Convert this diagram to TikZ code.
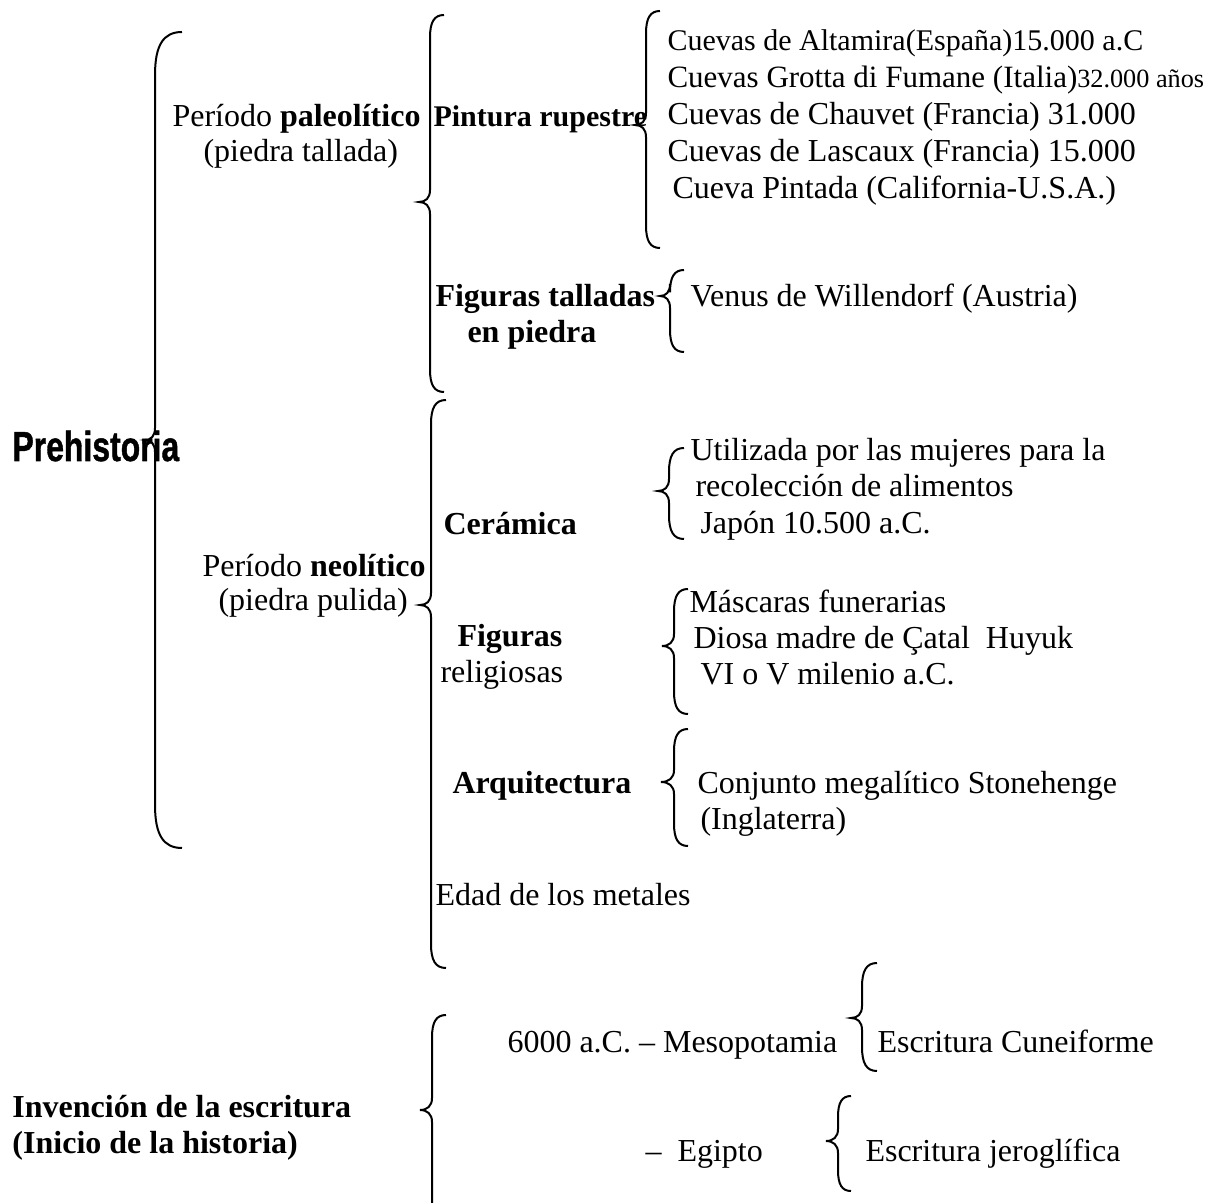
\documentclass[tikz,border=0pt]{standalone}
\usepackage{fontspec}
\setmainfont{Liberation Serif}
\newfontfamily\titulo[FakeBold=1.2]{Liberation Sans}

\tikzset{
  llave/.style={line width=0.8pt},
  txt/.style={anchor=base west, inner sep=0pt, font=\fontsize{12.8}{15}\selectfont},
  chico/.style={font=\fontsize{12}{14}\selectfont},
}

% llave: x linea, y arriba, y punta, y abajo, ancho extremos, ancho punta
\newcommand{\llave}[6]{%
  \draw[llave] (#1+#5,#2) .. controls (#1+0.3*#5,#2) and (#1,#2+0.5*#5) .. (#1,#2+1.6*#5)
    -- (#1,#3-12) .. controls (#1,#3-4) and (#1-0.4*#6,#3) .. (#1-#6,#3)
    .. controls (#1-0.4*#6,#3) and (#1,#3+4) .. (#1,#3+12)
    -- (#1,#4-1.6*#5) .. controls (#1,#4-0.5*#5) and (#1+0.3*#5,#4) .. (#1+#5,#4);}

\begin{document}
\begin{tikzpicture}[x=0.4pt,y=-0.4pt]
  \useasboundingbox (0,0) rectangle (1217,1203);

  % Prehistoria
  \node[anchor=base west, inner sep=0pt] (prehist) at (12,461)
    {\titulo\fontsize{16.8}{18}\selectfont\bfseries\scalebox{0.76}[1]{Prehistoria}};
  \llave{155}{32}{440}{848}{27}{10}

  % paleolitico
  \node[txt] (paleo) at (172,127) {Período \textbf{paleolítico}};
  \node[txt] (paleo2) at (203,162) {(piedra tallada)};
  \llave{430}{15}{202}{392}{14}{11}

  \node[txt, chico] (pintura) at (433,127) {\textbf{Pintura rupestre}};
  \llave{646}{11}{125}{248}{14}{11}
  \node[txt, chico] (cueva1) at (667,51) {Cuevas de Altamira(España)15.000 a.C};
  \node[txt, font=\fontsize{12.4}{14}\selectfont] (cueva2) at (667,88)
    {Cuevas Grotta di Fumane (Italia)\fontsize{10.5}{12}\selectfont32.000 años};
  \node[txt] (cueva3) at (667,125) {Cuevas de Chauvet (Francia) 31.000};
  \node[txt] (cueva4) at (667,162) {Cuevas de Lascaux (Francia) 15.000};
  \node[txt] (cueva5) at (672,199) {Cueva Pintada (California-U.S.A.)};

  \node[txt] (tallas) at (435,307) {\textbf{Figuras talladas}};
  \node[txt] (tallas2) at (467,343) {\textbf{en piedra}};
  \llave{670}{270}{296}{352}{14}{10}
  \node[txt] (venus) at (690,307) {Venus de Willendorf (Austria)};

  % neolitico
  \node[txt] (neo) at (202,576) {Período \textbf{neolítico}};
  \node[txt] (neo2) at (218,611) {(piedra pulida)};
  \llave{431}{400}{605}{968}{15}{11}

  \node[txt] (ceram) at (443,535) {\textbf{Cerámica}};
  \llave{669}{448}{491}{539}{15}{11}
  \node[txt] (ceram1) at (690,461) {Utilizada por las mujeres para la};
  \node[txt] (ceram2) at (695,497) {recolección de alimentos};
  \node[txt] (ceram3) at (700,534) {Japón 10.500 a.C.};

  \node[txt] (relig) at (457,646) {\textbf{Figuras}};
  \node[txt] (relig2) at (440,682) {religiosas};
  \llave{674}{589}{646}{714}{14}{12}
  \node[txt] (relig3) at (689,612) {Máscaras funerarias};
  \node[txt] (relig4) at (693,648) {Diosa madre de Çatal\ \ Huyuk};
  \node[txt] (relig5) at (700,684) {VI o V milenio a.C.};

  \node[txt] (arq) at (452,793) {\textbf{Arquitectura}};
  \llave{674}{729}{782}{846}{14}{13}
  \node[txt] (arq1) at (697,793) {Conjunto megalítico Stonehenge};
  \node[txt] (arq2) at (700,829) {(Inglaterra)};

  \node[txt] (metal) at (435,905) {Edad de los metales};

  % escritura
  \node[txt] (escr) at (12,1117) {\textbf{Invención de la escritura}};
  \node[txt] (escr2) at (12,1153) {\textbf{(Inicio de la historia)}};
  \llave{432}{1015}{1110}{1245}{14}{12}

  \node[txt] (meso) at (507,1052) {6000 a.C. -- Mesopotamia};
  \llave{862}{963}{1018}{1071}{15}{11}
  \node[txt] (cunei) at (877,1052) {Escritura Cuneiforme};

  \node[txt] (egip) at (645,1161) {--\ \ Egipto};
  \llave{838}{1096}{1141}{1191}{13}{12}
  \node[txt] (jerog) at (865,1161) {Escritura jeroglífica};
\end{tikzpicture}
\end{document}
